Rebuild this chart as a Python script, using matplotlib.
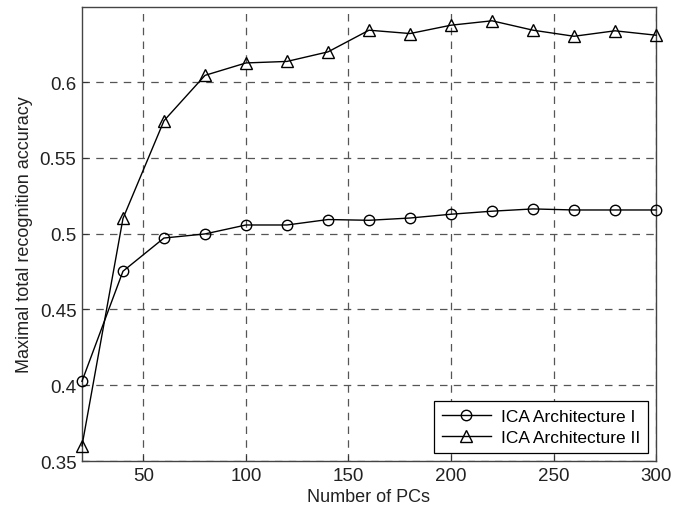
import matplotlib
matplotlib.use("Agg")
import matplotlib.pyplot as plt

plt.rcParams['font.family'] = ['Liberation Sans', 'DejaVu Sans']

pcs = [20, 40, 60, 80, 100, 120, 140, 160, 180, 200, 220, 240, 260, 280, 300]
arch1 = [0.4026, 0.4752, 0.4971, 0.4998, 0.5057, 0.5057, 0.5093, 0.5088,
         0.5103, 0.5128, 0.5148, 0.5163, 0.5156, 0.5156, 0.5156]
arch2 = [0.3600, 0.5100, 0.5745, 0.6044, 0.6126, 0.6136, 0.6199, 0.6342,
         0.6320, 0.6375, 0.6404, 0.6342, 0.6302, 0.6338, 0.6309]
xticks = [50, 100, 150, 200, 250, 300]
yticks = [0.35, 0.4, 0.45, 0.5, 0.55, 0.6]
ytick_labels = ['0.35', '0.4', '0.45', '0.5', '0.55', '0.6']

fig = plt.figure(figsize=(6.86, 5.10), dpi=100)
ax = fig.add_axes([0.1195, 0.0941, 0.8368, 0.8902])

ax.plot(pcs, arch1, color='black', lw=1.0, marker='o', ms=7.5,
        mfc='none', mec='black', mew=1.0, label='ICA Architecture I', clip_on=False, zorder=3)
ax.plot(pcs, arch2, color='black', lw=1.0, marker='^', ms=9,
        mfc='none', mec='black', mew=1.0, label='ICA Architecture II', clip_on=False, zorder=3)

ax.set_xlim(20, 300)
ax.set_ylim(0.35, 0.6495)
ax.set_xticks(xticks)
ax.set_yticks(yticks)
ax.set_yticklabels(ytick_labels)

ax.grid(True, color='#555555', linestyle=(0, (6, 5)), linewidth=0.9)
ax.tick_params(direction='in', length=4, labelsize=13.5, colors='#333333', labelcolor='#222222', pad=4)
for s in ax.spines.values():
    s.set_color('#444444')
    s.set_linewidth(1.0)

ax.set_xlabel('Number of PCs', fontsize=13, color='#222222', labelpad=3)
ax.set_ylabel('Maximal total recognition accuracy', fontsize=13, color='#222222', labelpad=5)

leg = ax.legend(loc='lower right', fontsize=12.5, fancybox=False, framealpha=1,
                edgecolor='black', borderaxespad=0.45, handlelength=2.8,
                borderpad=0.45, labelspacing=0.35, handletextpad=0.6)
leg.get_frame().set_linewidth(0.9)

fig.savefig('out.png', dpi=100)
